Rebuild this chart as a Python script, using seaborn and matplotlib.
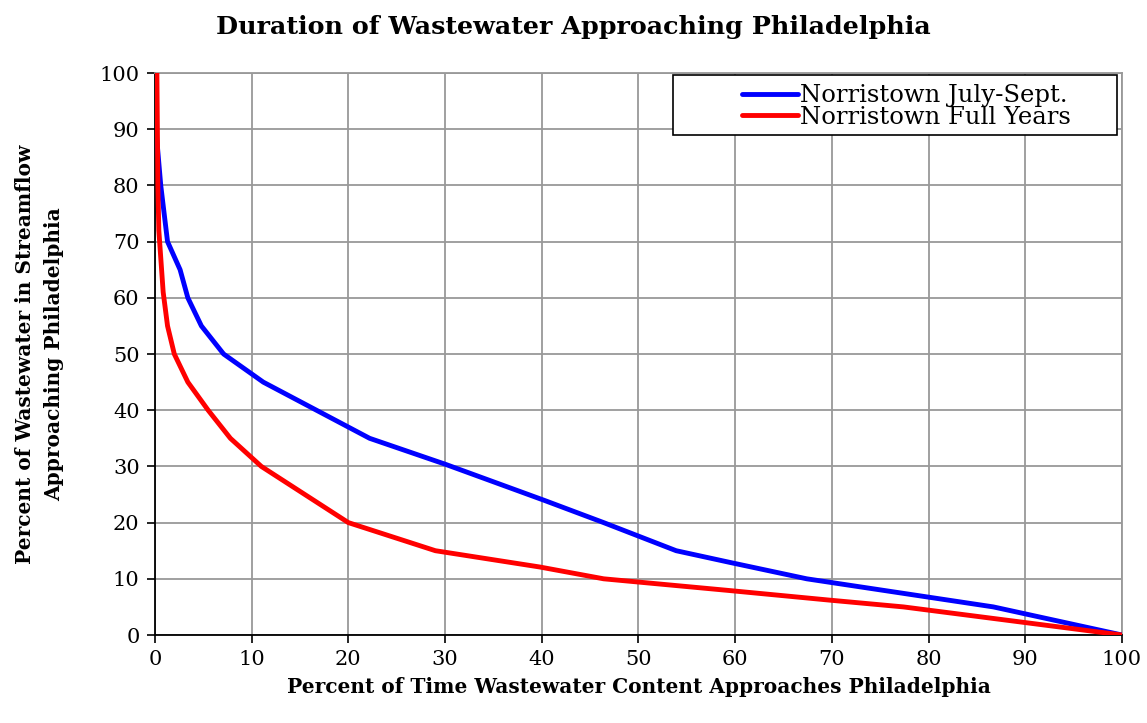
import pandas as pd
import matplotlib
matplotlib.use("Agg")
import matplotlib.pyplot as plt
import seaborn as sns
from matplotlib.patches import Rectangle

july_x = [0.1, 0.6, 1.3, 2.6, 3.4, 4.8, 7.1, 11.2, 22.2, 30.0, 40.2, 46.4, 53.9, 59.5, 67.4, 86.7, 100.0]
july_y = [90, 80, 70, 65, 60, 55, 50, 45, 35, 30.4, 24.0, 20, 15, 12.9, 10, 5, 0]

full_x = [0.2, 0.3, 0.4, 0.85, 1.3, 2.0, 3.4, 5.5, 7.8, 11.0, 15.5, 20.0, 29.0, 39.8, 46.4, 59.5, 69.8, 77.4, 100.0]
full_y = [100, 80, 72, 61, 55, 50, 45, 40, 35, 30, 25, 20, 15, 12.1, 10, 7.9, 6.2, 5, 0]

labels = ["Norristown July-Sept.", "Norristown Full Years"]
ticks = list(range(0, 101, 10))


def main():
    sns.set_style("white")
    plt.rcParams["font.family"] = ["DejaVu Serif"]
    plt.rcParams["text.color"] = "black"
    plt.rcParams["axes.labelcolor"] = "black"
    plt.rcParams["xtick.color"] = "black"
    plt.rcParams["ytick.color"] = "black"

    df = pd.concat([
        pd.DataFrame({"x": july_x, "y": july_y, "series": labels[0]}),
        pd.DataFrame({"x": full_x, "y": full_y, "series": labels[1]}),
    ])

    fig = plt.figure(figsize=(11.47, 7.23), dpi=100)
    ax = fig.add_axes([0.1351, 0.1217, 0.8431, 0.7773])

    sns.lineplot(data=df, x="x", y="y", hue="series", estimator=None, sort=False,
                 palette={labels[0]: "#0000ff", labels[1]: "#ff0000"},
                 linewidth=3.5, ax=ax, legend=False, zorder=3)

    ax.set_xlim(0, 100)
    ax.set_ylim(0, 100)
    ax.set_xticks(ticks)
    ax.set_yticks(ticks)
    ax.grid(True, color="#999999", linewidth=1.3)
    ax.set_axisbelow(True)
    ax.tick_params(axis="both", direction="out", length=6, width=1.2, color="#000000",
                   labelsize=15, pad=5, left=True, bottom=True)
    for s in ["top", "right"]:
        ax.spines[s].set_color("#999999")
        ax.spines[s].set_linewidth(1.3)
    for s in ["left", "bottom"]:
        ax.spines[s].set_color("#000000")
        ax.spines[s].set_linewidth(1.3)

    ax.set_xlabel("Percent of Time Wastewater Content Approaches Philadelphia",
                  fontsize=14.5, fontweight="bold")
    ax.xaxis.set_label_coords(0.5, -0.075)
    ax.set_ylabel("Percent of Wastewater in Streamflow\nApproaching Philadelphia",
                  fontsize=14.5, fontweight="bold", linespacing=1.55, va="center")
    ax.yaxis.set_label_coords(-0.119, 0.5)
    fig.text(0.5, 0.9627, "Duration of Wastewater Approaching Philadelphia",
             fontsize=18.3, fontweight="bold", ha="center", va="center")

    # legend box is wider than its contents, as in the original
    ax.add_patch(Rectangle((0.5357, 0.8897), 0.4591, 0.1067, transform=ax.transAxes,
                           facecolor="white", edgecolor="black", linewidth=1.2,
                           zorder=4, clip_on=False))
    handles = [plt.Line2D([], [], color="#0000ff", lw=3.5),
               plt.Line2D([], [], color="#ff0000", lw=3.5)]
    leg = ax.legend(handles, labels, loc="center left", bbox_to_anchor=(0.607, 0.9404),
                    frameon=False, fontsize=17.5, handlelength=2.3, handletextpad=0.1,
                    labelspacing=-0.05, borderpad=0, borderaxespad=0)
    leg.set_zorder(5)

    fig.savefig("out.png", dpi=100)


if __name__ == "__main__":
    main()
